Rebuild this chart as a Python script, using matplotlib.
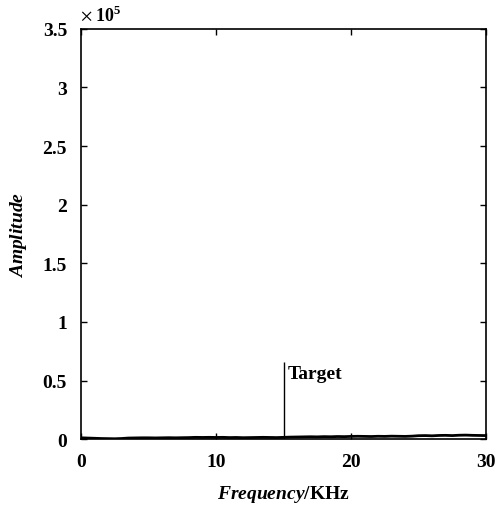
import matplotlib
matplotlib.use("Agg")
from matplotlib import pyplot as plt

# spectrum floor (x10^5), sampled every 0.5 kHz from 0 to 30
floor_freq = [i * 0.5 for i in range(61)]
floor_amp = [0.012, 0.010, 0.008, 0.006, 0.005, 0.004, 0.006, 0.010, 0.011, 0.012,
             0.012, 0.011, 0.012, 0.013, 0.012, 0.013, 0.014, 0.016, 0.015, 0.016,
             0.015, 0.016, 0.014, 0.015, 0.013, 0.014, 0.015, 0.016, 0.015, 0.014,
             0.016, 0.018, 0.019, 0.020, 0.021, 0.020, 0.022, 0.021, 0.023, 0.022,
             0.024, 0.025, 0.024, 0.023, 0.025, 0.024, 0.026, 0.025, 0.024, 0.026,
             0.030, 0.031, 0.029, 0.032, 0.033, 0.031, 0.034, 0.035, 0.033, 0.032, 0.031]
target_freq = 15.0
target_amp = 0.66

x_ticks = [0, 10, 20, 30]
y_ticks = [0, 0.5, 1, 1.5, 2, 2.5, 3, 3.5]
y_tick_labels = ['0', '0.5', '1', '1.5', '2', '2.5', '3', '3.5']

plt.rcParams['font.family'] = 'Liberation Serif'
plt.rcParams['font.weight'] = 'bold'
plt.rcParams['mathtext.fontset'] = 'custom'
plt.rcParams['mathtext.rm'] = 'Liberation Serif'
plt.rcParams['mathtext.bfit'] = 'Liberation Serif:italic:bold'

fig = plt.figure(figsize=(4.97, 5.06), dpi=100)
ax = fig.add_axes([0.163, 0.130, 0.815, 0.811])

ax.plot(floor_freq, floor_amp, color='black', linewidth=2.0)
ax.vlines(target_freq, 0, target_amp, color='black', linewidth=1.0)
ax.text(target_freq + 0.3, target_amp - 0.14, 'Target', fontsize=14, fontweight='bold')

ax.set_xlim(0, 30)
ax.set_ylim(0, 3.5)
ax.set_xticks(x_ticks)
ax.set_yticks(y_ticks)
ax.set_yticklabels(y_tick_labels)
ax.tick_params(direction='in', length=4, width=1, labelsize=14, top=True, right=True, pad=10)
for label in ax.get_xticklabels() + ax.get_yticklabels():
    label.set_fontweight('bold')
for spine in ax.spines.values():
    spine.set_linewidth(1.2)

ax.text(-0.005, 1.015, '\u00d7', transform=ax.transAxes, fontsize=17, fontweight='normal')
ax.text(0.035, 1.018, r'$10^5$', transform=ax.transAxes, fontsize=13)
ax.set_xlabel(r'$\mathbfit{Frequency}$/KHz', fontsize=14, fontweight='bold', labelpad=9)
ax.set_ylabel(r'$\mathbfit{Amplitude}$', fontsize=14, labelpad=10)

fig.savefig('out.png', dpi=100)
